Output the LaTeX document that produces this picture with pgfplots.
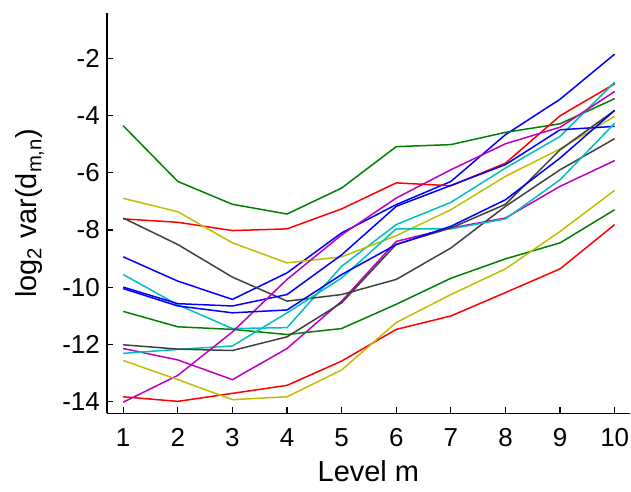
\documentclass[border=0pt]{standalone}
\usepackage{fontspec}
\setmainfont{Liberation Sans}
\usepackage{pgfplots}
\usepackage{pgfplotstable}
\pgfplotsset{compat=1.18}

\definecolor{mb}{rgb}{0,0,1}
\definecolor{mg}{rgb}{0,0.5,0}
\definecolor{mr}{rgb}{1,0,0}
\definecolor{mc}{rgb}{0,0.75,0.75}
\definecolor{mm}{rgb}{0.75,0,0.75}
\definecolor{my}{rgb}{0.75,0.75,0}
\definecolor{mk}{rgb}{0.25,0.25,0.25}

% log2 variance of detail coefficients, one column per series
\pgfplotstableread{
m  b1     g1     r1     c1     m1     y1     k1     b2     g2     r2     c2     m2     y2     k2     b3
1  -8.94  -4.35  -7.61  -9.56  -12.15 -6.89  -7.58  -10.00 -10.85 -13.84 -12.32 -14.03 -12.57 -12.02 -10.05
2  -9.79  -6.30  -7.73  -10.62 -12.55 -7.36  -8.51  -10.58 -11.39 -14.00 -12.18 -13.09 -13.24 -12.17 -10.66
3  -10.43 -7.10  -8.02  -11.45 -13.24 -8.45  -9.65  -10.66 -11.48 -13.72 -12.06 -11.57 -13.94 -12.22 -10.90
4  -9.50  -7.44  -7.96  -11.42 -12.15 -9.15  -10.49 -10.26 -11.66 -13.44 -10.90 -9.73  -13.84 -11.74 -10.80
5  -8.10  -6.53  -7.26  -9.27  -10.49 -8.94  -10.26 -8.87  -11.45 -12.59 -9.68  -8.17  -12.90 -10.55 -9.56
6  -7.11  -5.08  -6.35  -7.81  -8.40  -8.20  -9.73  -7.17  -10.60 -11.48 -7.96  -6.88  -11.24 -8.50  -8.51
7  -6.30  -5.01  -6.45  -7.03  -7.93  -7.29  -8.63  -6.44  -9.69  -11.01 -7.96  -5.89  -10.26 -7.93  -7.87
8  -4.66  -4.58  -5.66  -5.83  -7.58  -6.12  -7.17  -5.71  -9.01  -10.19 -7.61  -4.98  -9.36  -7.10  -6.94
9  -3.42  -4.28  -4.00  -4.72  -6.47  -5.16  -5.89  -4.49  -8.45  -9.36  -6.24  -4.40  -8.05  -5.19  -5.48
10 -1.84  -3.40  -2.88  -2.82  -5.57  -4.02  -4.80  -4.37  -7.29  -7.81  -4.26  -3.15  -6.61  -3.81  -3.81
}\vartab

\begin{document}
\begin{tikzpicture}
\begin{axis}[
  scale only axis, width=262pt, height=200.5pt,
  xmin=0.7, xmax=10.28, ymin=-14.42, ymax=-0.4,
  xtick={1,...,10}, ytick={-14,-12,...,-2},
  axis x line=bottom, axis y line=left,
  axis line style={-, line width=0.75pt, black},
  tick align=inside, major tick length=3pt,
  tick style={line width=0.6pt, black},
  tick label style={font=\fontsize{13}{15}\selectfont},
  label style={font=\fontsize{14.5}{17}\selectfont},
  /pgf/number format/assume math mode=true,
  xticklabel style={yshift=-4pt},
  xlabel={Level m},
  ylabel={log\textsubscript{2} var(d\textsubscript{m,n})},
  xlabel style={at={([yshift=-29pt]rel axis cs:0.5,0)}, anchor=center},
  ylabel style={at={([xshift=-38.5pt]rel axis cs:0,0.5)}, anchor=center},
  every axis plot/.append style={line width=0.75pt, mark=none},
  clip=false,
]
\addplot[mb] table[x=m, y=b1] {\vartab};
\addplot[mg] table[x=m, y=g1] {\vartab};
\addplot[mr] table[x=m, y=r1] {\vartab};
\addplot[mc] table[x=m, y=c1] {\vartab};
\addplot[mm] table[x=m, y=m1] {\vartab};
\addplot[my] table[x=m, y=y1] {\vartab};
\addplot[mk] table[x=m, y=k1] {\vartab};
\addplot[mb] table[x=m, y=b2] {\vartab};
\addplot[mg] table[x=m, y=g2] {\vartab};
\addplot[mr] table[x=m, y=r2] {\vartab};
\addplot[mc] table[x=m, y=c2] {\vartab};
\addplot[mm] table[x=m, y=m2] {\vartab};
\addplot[my] table[x=m, y=y2] {\vartab};
\addplot[mk] table[x=m, y=k2] {\vartab};
\addplot[mb] table[x=m, y=b3] {\vartab};
\end{axis}
\pgfresetboundingbox
\path ([xshift=-53.5pt,yshift=-39pt]current axis.south west) rectangle ([xshift=0.5pt,yshift=6.5pt]current axis.north east);
\end{tikzpicture}
\end{document}
